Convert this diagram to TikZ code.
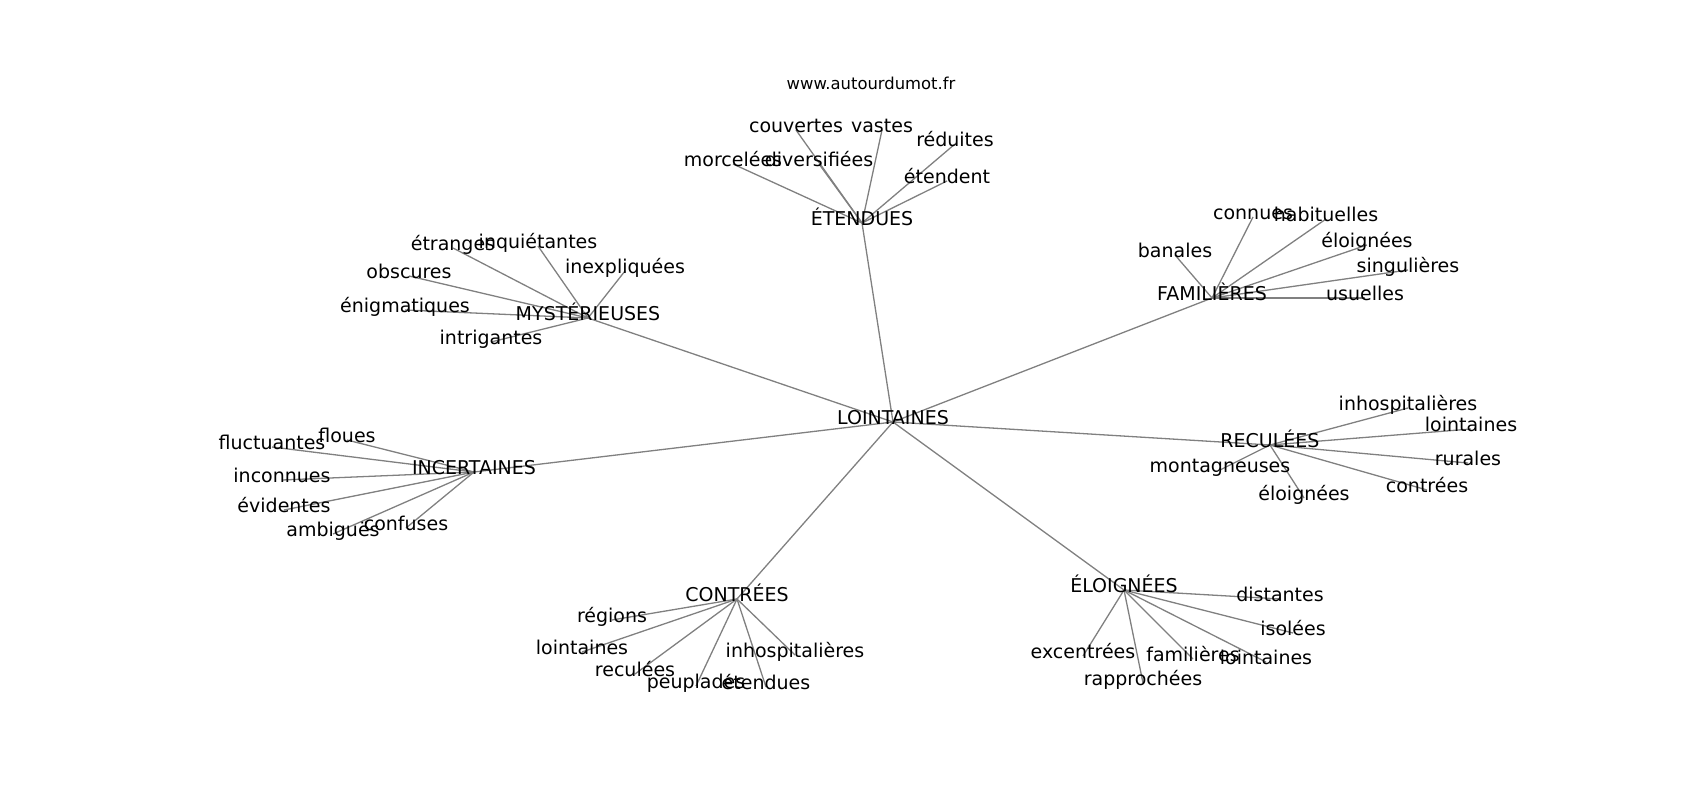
\documentclass[tikz,border=0pt]{standalone}
\usepackage{fontspec}
\setmainfont{DejaVu Sans}
\usetikzlibrary{backgrounds}
\definecolor{linkgray}{RGB}{128,128,128}
\tikzset{
	word/.style={inner sep=0pt, text height=0.76em, text depth=0.24em, font=\fontsize{19}{23}\selectfont},
	link/.style={draw=linkgray, line width=1.3pt},
}

\begin{document}
\begin{tikzpicture}[x=1pt,y=-1pt]

	\useasboundingbox (0,-4) rectangle (1700,796);

	\node[inner sep=0pt, text height=0.76em, text depth=0.24em, font=\fontsize{16.4}{20}\selectfont] (site) at (871,83) {www.autourdumot.fr};

	% hubs
	\node[word] (lointaines) at (893,418) {LOINTAINES};
	\node[word] (etendues) at (862,219) {ÉTENDUES};
	\node[word] (mysterieuses) at (588,314) {MYSTÉRIEUSES};
	\node[word] (familieres) at (1212,294) {FAMILIÈRES};
	\node[word] (incertaines) at (474,468) {INCERTAINES};
	\node[word] (reculees) at (1270,441) {RECULÉES};
	\node[word] (contrees) at (737,595) {CONTRÉES};
	\node[word] (eloignees) at (1124,586) {ÉLOIGNÉES};

	% ÉTENDUES
	\node[word] (et-couvertes) at (796,126) {couvertes};
	\node[word] (et-vastes) at (882,126) {vastes};
	\node[word] (et-reduites) at (955,140) {réduites};
	\node[word] (et-morcelees) at (733,160) {morcelées};
	\node[word] (et-diversifiees) at (819,160) {diversifiées};
	\node[word] (et-etendent) at (947,177) {étendent};

	% MYSTÉRIEUSES
	\node[word] (my-etranges) at (453,244) {étranges};
	\node[word] (my-inquietantes) at (538,242) {inquiétantes};
	\node[word] (my-obscures) at (409,272) {obscures};
	\node[word] (my-inexpliquees) at (625,267) {inexpliquées};
	\node[word] (my-enigmatiques) at (405,306) {énigmatiques};
	\node[word] (my-intrigantes) at (491,338) {intrigantes};

	% FAMILIÈRES
	\node[word] (fa-connues) at (1253,213) {connues};
	\node[word] (fa-habituelles) at (1326,215) {habituelles};
	\node[word] (fa-banales) at (1175,251) {banales};
	\node[word] (fa-eloignees) at (1367,241) {éloignées};
	\node[word] (fa-singulieres) at (1408,266) {singulières};
	\node[word] (fa-usuelles) at (1365,294) {usuelles};

	% INCERTAINES
	\node[word] (in-floues) at (347,436) {floues};
	\node[word] (in-fluctuantes) at (272,443) {fluctuantes};
	\node[word] (in-inconnues) at (282,476) {inconnues};
	\node[word] (in-evidentes) at (284,506) {évidentes};
	\node[word] (in-ambigues) at (333,530) {ambiguës};
	\node[word] (in-confuses) at (406,524) {confuses};

	% RECULÉES
	\node[word] (re-inhospitalieres) at (1408,404) {inhospitalières};
	\node[word] (re-lointaines) at (1471,425) {lointaines};
	\node[word] (re-rurales) at (1468,459) {rurales};
	\node[word] (re-contrees) at (1427,486) {contrées};
	\node[word] (re-eloignees) at (1304,494) {éloignées};
	\node[word] (re-montagneuses) at (1220,466) {montagneuses};

	% CONTRÉES
	\node[word] (co-regions) at (612,616) {régions};
	\node[word] (co-lointaines) at (582,648) {lointaines};
	\node[word] (co-reculees) at (635,670) {reculées};
	\node[word] (co-peuplades) at (696,682) {peuplades};
	\node[word] (co-etendues) at (766,683) {étendues};
	\node[word] (co-inhospitalieres) at (795,651) {inhospitalières};

	% ÉLOIGNÉES
	\node[word] (el-distantes) at (1280,595) {distantes};
	\node[word] (el-isolees) at (1293,629) {isolées};
	\node[word] (el-excentrees) at (1083,652) {excentrées};
	\node[word] (el-familieres) at (1193,655) {familières};
	\node[word] (el-lointaines) at (1266,658) {lointaines};
	\node[word] (el-rapprochees) at (1143,679) {rapprochées};

	\begin{scope}[on background layer]
	\draw[link] (lointaines.center) -- (etendues.center);
	\draw[link] (lointaines.center) -- (mysterieuses.center);
	\draw[link] (lointaines.center) -- (familieres.center);
	\draw[link] (lointaines.center) -- (incertaines.center);
	\draw[link] (lointaines.center) -- (reculees.center);
	\draw[link] (lointaines.center) -- (contrees.center);
	\draw[link] (lointaines.center) -- (eloignees.center);

	\draw[link] (etendues.center) -- (et-couvertes.center);
	\draw[link] (etendues.center) -- (et-vastes.center);
	\draw[link] (etendues.center) -- (et-reduites.center);
	\draw[link] (etendues.center) -- (et-morcelees.center);
	\draw[link] (etendues.center) -- (et-diversifiees.center);
	\draw[link] (etendues.center) -- (et-etendent.center);

	\draw[link] (mysterieuses.center) -- (my-etranges.center);
	\draw[link] (mysterieuses.center) -- (my-inquietantes.center);
	\draw[link] (mysterieuses.center) -- (my-obscures.center);
	\draw[link] (mysterieuses.center) -- (my-inexpliquees.center);
	\draw[link] (mysterieuses.center) -- (my-enigmatiques.center);
	\draw[link] (mysterieuses.center) -- (my-intrigantes.center);

	\draw[link] (familieres.center) -- (fa-connues.center);
	\draw[link] (familieres.center) -- (fa-habituelles.center);
	\draw[link] (familieres.center) -- (fa-banales.center);
	\draw[link] (familieres.center) -- (fa-eloignees.center);
	\draw[link] (familieres.center) -- (fa-singulieres.center);
	\draw[link] (familieres.center) -- (fa-usuelles.center);

	\draw[link] (incertaines.center) -- (in-floues.center);
	\draw[link] (incertaines.center) -- (in-fluctuantes.center);
	\draw[link] (incertaines.center) -- (in-inconnues.center);
	\draw[link] (incertaines.center) -- (in-evidentes.center);
	\draw[link] (incertaines.center) -- (in-ambigues.center);
	\draw[link] (incertaines.center) -- (in-confuses.center);

	\draw[link] (reculees.center) -- (re-inhospitalieres.center);
	\draw[link] (reculees.center) -- (re-lointaines.center);
	\draw[link] (reculees.center) -- (re-rurales.center);
	\draw[link] (reculees.center) -- (re-contrees.center);
	\draw[link] (reculees.center) -- (re-eloignees.center);
	\draw[link] (reculees.center) -- (re-montagneuses.center);

	\draw[link] (contrees.center) -- (co-regions.center);
	\draw[link] (contrees.center) -- (co-lointaines.center);
	\draw[link] (contrees.center) -- (co-reculees.center);
	\draw[link] (contrees.center) -- (co-peuplades.center);
	\draw[link] (contrees.center) -- (co-etendues.center);
	\draw[link] (contrees.center) -- (co-inhospitalieres.center);

	\draw[link] (eloignees.center) -- (el-distantes.center);
	\draw[link] (eloignees.center) -- (el-isolees.center);
	\draw[link] (eloignees.center) -- (el-excentrees.center);
	\draw[link] (eloignees.center) -- (el-familieres.center);
	\draw[link] (eloignees.center) -- (el-lointaines.center);
	\draw[link] (eloignees.center) -- (el-rapprochees.center);
	\end{scope}

\end{tikzpicture}
\end{document}
